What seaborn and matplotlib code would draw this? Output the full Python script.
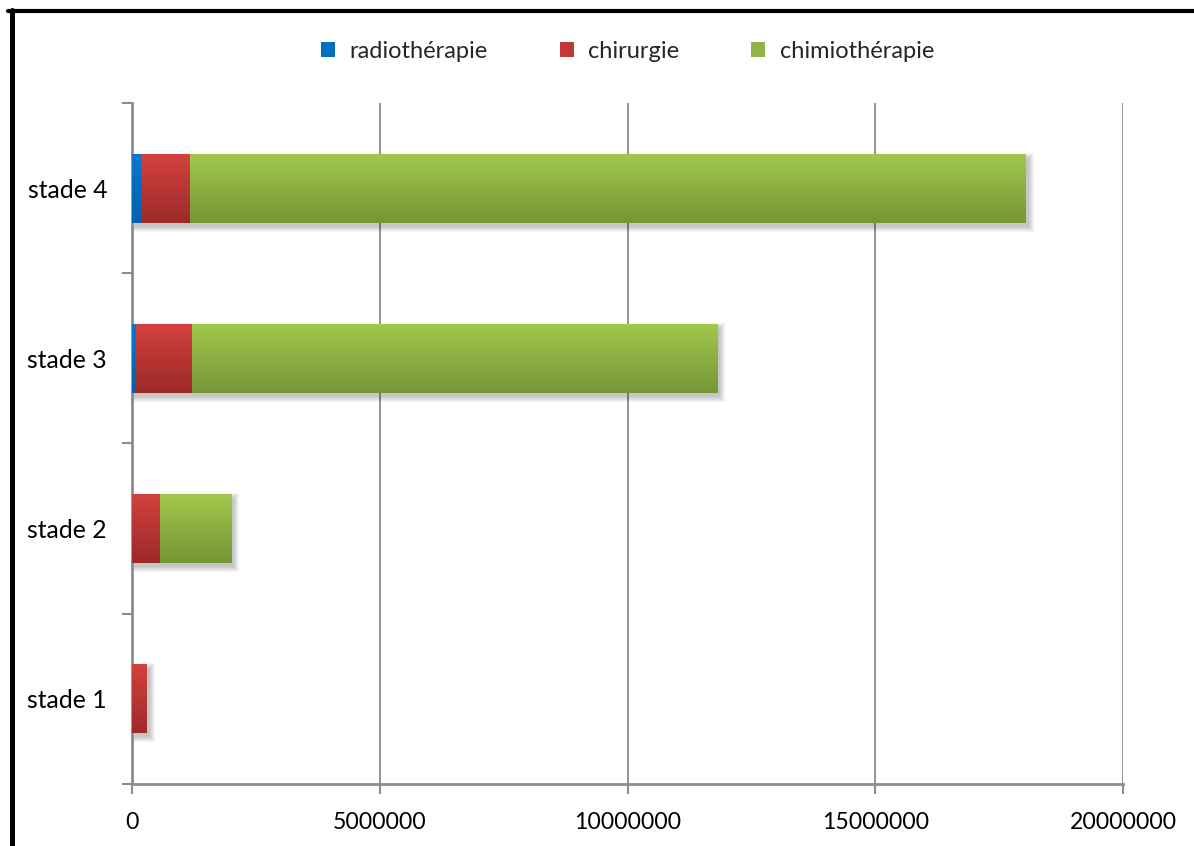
import numpy as np
import pandas as pd
import matplotlib
matplotlib.use("Agg")
import matplotlib.pyplot as plt
import seaborn as sns
from matplotlib.patches import Patch, Rectangle
from matplotlib.lines import Line2D
from matplotlib.colors import LinearSegmentedColormap
from matplotlib.ticker import FixedLocator

# Costs per stage and treatment
stades = ["stade 1", "stade 2", "stade 3", "stade 4"]
radiotherapie = [0, 0, 80000, 180000]
chirurgie = [300000, 565000, 1130000, 990000]
chimiotherapie = [0, 1435000, 10600000, 16870000]
series_names = ["radiothérapie", "chirurgie", "chimiothérapie"]
x_ticks = [0, 5000000, 10000000, 15000000, 20000000]

# Top/bottom shades of each series gradient
shades = {
    "radiothérapie": ("#0a78cc", "#0062ad"),
    "chirurgie": ("#d4413e", "#9c2a2a"),
    "chimiothérapie": ("#a1c84c", "#759636"),
}
legend_colors = {"radiothérapie": "#0070c0", "chirurgie": "#c0393a", "chimiothérapie": "#8fb545"}

df = pd.DataFrame({"stade": stades, "radio": radiotherapie,
                   "chir": chirurgie, "chimio": chimiotherapie})
df["c1"] = df["radio"]
df["c2"] = df["c1"] + df["chir"]
df["c3"] = df["c2"] + df["chimio"]
order = stades[::-1]

sns.set_style("white")
plt.rcParams["font.family"] = ["Lato", "DejaVu Sans"]

fig = plt.figure(figsize=(11.94, 8.46), dpi=100)
ax = fig.add_axes([132 / 1194, 1 - 784 / 846, (1123 - 132) / 1194, (784 - 103) / 846])

# Stacked bars: draw cumulative totals from the largest down
layers = [("c3", "chimiothérapie"), ("c2", "chirurgie"), ("c1", "radiothérapie")]
groups = []
for col, name in layers:
    before = len(ax.patches)
    sns.barplot(data=df, x=col, y="stade", order=order, orient="h",
                color=legend_colors[name], width=0.405, ax=ax, zorder=3,
                linewidth=0, errorbar=None)
    groups.append((name, ax.patches[before:]))

ax.set_xlim(0, 20000000)
ax.set_ylim(3.5, -0.5)

px_x = 20000000 / 991.0
px_y = 4.0 / 681.0

# Soft drop shadow behind each full bar
for p in groups[0][1]:
    x0, y0, w, h = p.get_x(), p.get_y(), p.get_width(), p.get_height()
    if w <= 0:
        continue
    for i in range(6):
        grow = i * 1.0
        r = Rectangle((x0 + 3 * px_x - grow * px_x, y0 + 4 * px_y - grow * px_y),
                      w + 2 * grow * px_x, h + 2 * grow * px_y,
                      facecolor="#000000", alpha=0.04, linewidth=0, zorder=2)
        ax.add_patch(r)

# Vertical gradient fill for every segment
for name, patches in groups:
    top, bottom = shades[name]
    cmap = LinearSegmentedColormap.from_list(name, [top, bottom])
    grad = np.linspace(0, 1, 256).reshape(-1, 1)
    for p in patches:
        x0, y0, w, h = p.get_x(), p.get_y(), p.get_width(), p.get_height()
        if w <= 0:
            continue
        im = ax.imshow(grad, cmap=cmap, aspect="auto",
                       extent=(x0, x0 + w, y0 + h, y0), origin="upper",
                       zorder=p.get_zorder() + 0.01, interpolation="bicubic")
        im.set_clip_path(p)
ax.set_aspect("auto")
ax.set_xlim(0, 20000000)
ax.set_ylim(3.5, -0.5)

grid_c = "#8c8c8c"
ax.set_xticks(x_ticks)
ax.set_xticklabels([str(v) for v in x_ticks])
ax.xaxis.grid(True, color=grid_c, linewidth=1.3, zorder=0)
ax.yaxis.grid(False)
ax.set_axisbelow(True)
ax.set_xlabel("")
ax.set_ylabel("")

for s in ["top", "right"]:
    ax.spines[s].set_visible(False)
for s in ["left", "bottom"]:
    ax.spines[s].set_visible(True)
    ax.spines[s].set_color(grid_c)
    ax.spines[s].set_linewidth(2)

ax.yaxis.set_minor_locator(FixedLocator([-0.5, 0.5, 1.5, 2.5, 3.5]))
ax.tick_params(axis="y", which="major", length=0, pad=18, labelsize=17.8, labelcolor="black")
ax.tick_params(axis="y", which="minor", length=7, width=1.5, color=grid_c, direction="out", left=True)
ax.tick_params(axis="x", which="major", length=7, width=1.5, color=grid_c, direction="out",
               bottom=True, pad=13, labelsize=16.6, labelcolor="black")

handles = [Patch(facecolor=legend_colors[n], edgecolor="none") for n in series_names]
fig.legend(handles, series_names, loc="center", bbox_to_anchor=(0.5256, 1 - 51 / 846),
           ncol=3, frameon=False, fontsize=17, handlelength=0.6, handleheight=0.6,
           handletextpad=0.6, columnspacing=3.05)

# Black frame lines along the top and left edge
fig.add_artist(Line2D([8 / 1194, 1], [1 - 11.5 / 846, 1 - 11.5 / 846],
                      transform=fig.transFigure, color="black", linewidth=3))
fig.add_artist(Line2D([11.5 / 1194, 11.5 / 1194], [0, 1 - 10 / 846],
                      transform=fig.transFigure, color="black", linewidth=3.6))

fig.savefig("out.png", dpi=100)
